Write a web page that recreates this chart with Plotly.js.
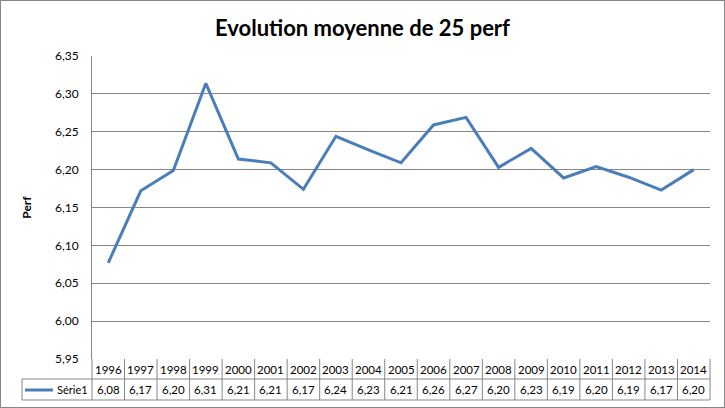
<!DOCTYPE html>
<html>
<head>
<meta charset="utf-8">
<script src="https://cdn.plot.ly/plotly-3.0.1.min.js"></script>
<style>
  html, body { margin: 0; padding: 0; background: #fff; }
  #wrap { position: relative; width: 725px; height: 408px; }
  #chart { position: absolute; left: 0; top: 0; width: 725px; height: 408px; }
  #frame { position: absolute; left: 0; top: 0; width: 725px; height: 408px; box-sizing: border-box; border: 1px solid #868686; pointer-events: none; }
</style>
</head>
<body>
<div id="wrap"><div id="chart"></div><div id="frame"></div></div>
<script>
const title = 'Evolution moyenne de 25 perf';
const yTitle = 'Perf';
const seriesName = 'Série1';
const years = ['1996','1997','1998','1999','2000','2001','2002','2003','2004','2005',
               '2006','2007','2008','2009','2010','2011','2012','2013','2014'];
const perf = [6.077, 6.172, 6.199, 6.314, 6.214, 6.209, 6.174, 6.244, 6.226, 6.209,
              6.259, 6.269, 6.203, 6.228, 6.189, 6.204, 6.190, 6.173, 6.200];
const tableValues = ['6,08','6,17','6,20','6,31','6,21','6,21','6,17','6,24','6,23','6,21',
                     '6,26','6,27','6,20','6,23','6,19','6,20','6,19','6,17','6,20'];

const FONT = 'Lato, Calibri, "Open Sans", sans-serif';
const GRID = '#868686';
const BLUE = '#4a7ebb';

const trace = {
  x: years, y: perf, type: 'scatter', mode: 'lines', name: seriesName,
  line: { color: BLUE, width: 3 }, showlegend: false, hoverinfo: 'skip'
};

const HEAD = -20, BOT = -41; // table row boundaries (px below plot bottom)
const shapes = [];
const line = { color: GRID, width: 1 };
[HEAD, BOT].forEach(function (py) {
  shapes.push({ type: 'line', xref: 'paper', x0: 0, x1: 1, yref: 'paper', ysizemode: 'pixel', yanchor: 0, y0: py, y1: py, line: line });
  shapes.push({ type: 'line', xref: 'paper', xsizemode: 'pixel', xanchor: 0, x0: -70, x1: 0, yref: 'paper', ysizemode: 'pixel', yanchor: 0, y0: py, y1: py, line: line });
});
for (let i = 1; i < years.length; i++) {
  shapes.push({ type: 'line', xref: 'x', x0: i - 0.5, x1: i - 0.5, yref: 'paper', ysizemode: 'pixel', yanchor: 0, y0: 0, y1: BOT, line: line });
}
[0, 1].forEach(function (px) {
  shapes.push({ type: 'line', xref: 'paper', x0: px, x1: px, yref: 'paper', ysizemode: 'pixel', yanchor: 0, y0: 0, y1: BOT, line: line });
});
shapes.push({ type: 'line', xref: 'paper', xsizemode: 'pixel', xanchor: 0, x0: -70, x1: -70, yref: 'paper', ysizemode: 'pixel', yanchor: 0, y0: HEAD, y1: BOT, line: line });
shapes.push({ type: 'line', xref: 'paper', xsizemode: 'pixel', xanchor: 0, x0: -67, x1: -39, yref: 'paper', ysizemode: 'pixel', yanchor: 0, y0: -31, y1: -31, line: { color: BLUE, width: 3 } });

const annotations = [];
years.forEach(function (yr, i) {
  annotations.push({ x: i, xref: 'x', y: 0, yref: 'paper', yanchor: 'middle', yshift: -10, text: yr, showarrow: false, font: { family: FONT, size: 11.5, color: '#000' } });
  annotations.push({ x: i, xref: 'x', y: 0, yref: 'paper', yanchor: 'middle', yshift: -30.5, text: tableValues[i], showarrow: false, font: { family: FONT, size: 11.5, color: '#000' } });
});
annotations.push({ x: 0, xref: 'paper', xanchor: 'right', xshift: -2, y: 0, yref: 'paper', yanchor: 'middle', yshift: -30.5, text: seriesName, showarrow: false, font: { family: FONT, size: 11, color: '#000' } });

const layout = {
  width: 725, height: 408,
  margin: { l: 92, r: 15, t: 56, b: 49, pad: 0 },
  paper_bgcolor: 'rgba(0,0,0,0)', plot_bgcolor: '#fff',
  separators: ', ',
  font: { family: FONT, color: '#000' },
  title: { text: '<b>' + title + '</b>', font: { family: FONT, size: 22, color: '#000' }, x: 0.5, xanchor: 'center', xref: 'container', y: 0.93, yanchor: 'middle', yref: 'container' },
  xaxis: { type: 'category', range: [-0.5, years.length - 0.5], showticklabels: false, showgrid: false, zeroline: false, showline: false, ticks: '', fixedrange: true },
  yaxis: {
    range: [5.9499, 6.3501], dtick: 0.05, tick0: 5.95, tickformat: '.2f',
    showgrid: true, gridcolor: GRID, gridwidth: 1, zeroline: false,
    showline: true, linecolor: GRID, linewidth: 1, ticks: '', ticklabelstandoff: 10,
    tickfont: { family: FONT, size: 12, color: '#000' },
    title: { text: '<b>' + yTitle + '</b>', font: { family: FONT, size: 12, color: '#000' }, standoff: 20 },
    fixedrange: true
  },
  shapes: shapes,
  annotations: annotations,
  showlegend: false
};

Plotly.newPlot('chart', [trace], layout, { displayModeBar: false, staticPlot: true });
</script>
</body>
</html>
